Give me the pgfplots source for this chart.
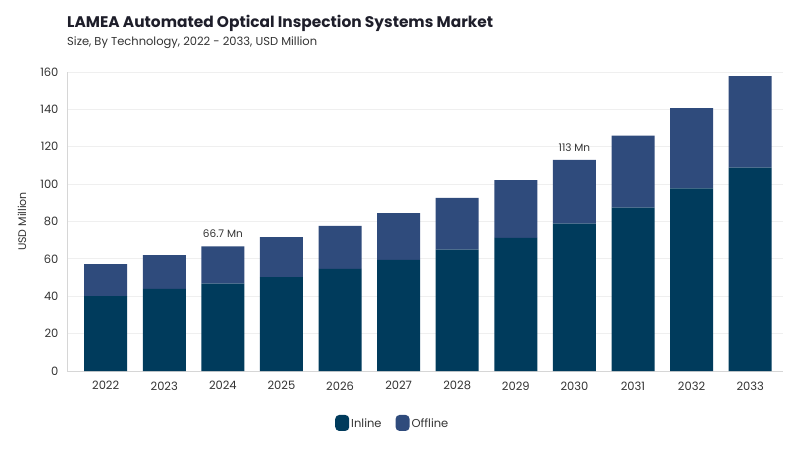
\documentclass[border=0pt]{standalone}
\usepackage{fontspec}
\setmainfont{Poppins}
\usepackage{pgfplots}
\usepackage{pgfplotstable}
\pgfplotsset{compat=1.18}

\definecolor{inline}{HTML}{003B5C}
\definecolor{offline}{HTML}{2F4B7C}
\definecolor{gridgray}{HTML}{EFEFEF}
\definecolor{axisgray}{HTML}{D6D6D6}
\definecolor{txt}{HTML}{333333}
\definecolor{titlecol}{HTML}{1E1E2A}

% year index, inline, offline (USD Million)
\pgfplotstableread{
x  inline offline
0  40.1   17.1
1  43.9   18.1
2  46.7   20.0
3  50.3   21.4
4  54.6   23.0
5  59.5   25.0
6  64.9   27.8
7  71.3   30.9
8  78.8   34.2
9  87.4   38.5
10 97.7   43.0
11 108.8  49.0
}\marketdata

\begin{document}
\begin{tikzpicture}
\path[use as bounding box] (0,0) rectangle (800pt,450pt);
\node[anchor=base west, font=\bfseries\fontsize{15.4}{18}\selectfont, text=titlecol, inner sep=0pt]
  at (67pt,422pt) {LAMEA Automated Optical Inspection Systems Market};
\node[anchor=base west, font=\fontsize{11.5}{13}\selectfont, text=txt, inner sep=0pt]
  at (67pt,404pt) {Size, By Technology, 2022 - 2033, USD Million};

\begin{axis}[
    at={(67pt,79pt)}, anchor=south west,
    scale only axis,
    width=716pt, height=299pt,
    ybar stacked,
    bar width=43pt,
    ymin=0, ymax=160,
    xmin=-0.66, xmax=11.56,
    ytick={0,20,...,160},
    xtick={0,...,11},
    xticklabels={2022,2023,2024,2025,2026,2027,2028,2029,2030,2031,2032,2033},
    axis x line*=bottom, axis y line*=left,
    axis line style={axisgray, line width=1pt},
    tick style={draw=none},
    ymajorgrids,
    grid style={gridgray, line width=0.8pt},
    ticklabel style={font=\fontsize{11.5}{13}\selectfont, text=txt},
    yticklabel style={xshift=-5pt},
    xticklabel style={yshift=-7pt},
    /pgf/number format/assume math mode=true,
    ylabel={USD Million},
    ylabel style={font=\fontsize{11}{13}\selectfont, text=txt, at={(axis description cs:-0.063,0.5)}, anchor=center},
    legend columns=2,
    legend style={draw=none, fill=none, at={(axis description cs:0.455,-0.174)}, anchor=center,
      font=\fontsize{11.5}{13}\selectfont, text=txt,
      /tikz/every even column/.append style={column sep=12pt}},
    legend image code/.code={\fill[#1, rounded corners=4pt] (0pt,-7pt) rectangle (14pt,9pt);},
]
\addplot[fill=inline, draw=none] table[x=x, y=inline] {\marketdata};
\addplot[fill=offline, draw=none] table[x=x, y=offline] {\marketdata};
\legend{Inline, Offline}
\node[anchor=south, font=\fontsize{10.5}{12}\selectfont, text=txt] at (axis cs:2,69.5) {66.7 Mn};
\node[anchor=south, font=\fontsize{10.5}{12}\selectfont, text=txt] at (axis cs:8,115.8) {113 Mn};
\end{axis}
\end{tikzpicture}
\end{document}
